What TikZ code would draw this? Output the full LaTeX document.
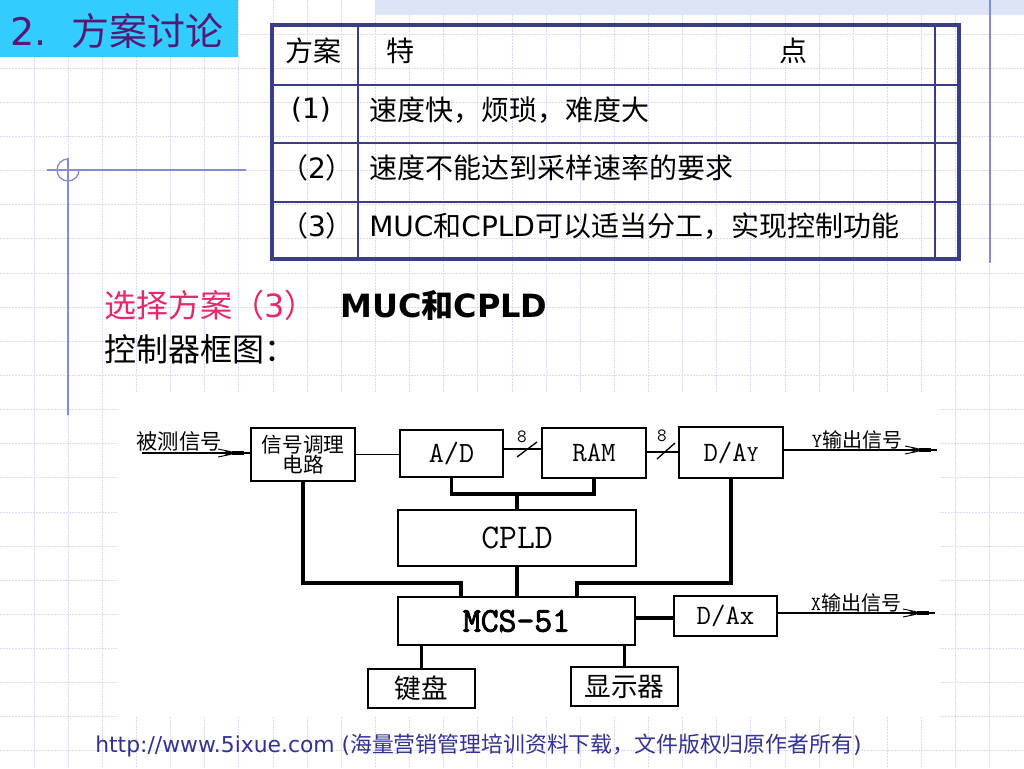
\documentclass[tikz,border=0pt]{standalone}
\usepackage{fontspec}
\usepackage{graphicx}
\setmainfont{Noto Sans CJK SC}
\newfontfamily\lat{DejaVu Sans}
\newfontfamily\mono{Latin Modern Mono}
\newfontfamily\monob{Latin Modern Mono}[FakeBold=2.5]
\usetikzlibrary{calc}
\newcommand\fs[1]{\fontsize{#1}{#1}\selectfont}
\newcommand\mkbox[6]{\node[box,minimum width={(#3-#1)*0.75pt},minimum height={(#4-#2)*0.75pt}] (#5) at ({(#1+#3)/2},{(#2+#4)/2}) {#6};}
\definecolor{gridc}{RGB}{218,218,243}
\definecolor{bandc}{RGB}{220,228,248}
\definecolor{decoc}{RGB}{130,140,215}
\definecolor{titlebgc}{RGB}{51,204,255}
\definecolor{titlec}{RGB}{85,25,115}
\definecolor{tabc}{RGB}{60,60,140}
\definecolor{pinkc}{RGB}{230,40,110}
\definecolor{footc}{RGB}{50,50,150}
\tikzset{
  gridline/.style={draw=gridc,line width=0.75pt,dash pattern=on 1.5pt off 0.75pt},
  deco/.style={draw=decoc,line width=1pt},
  tabthin/.style={draw=tabc,line width=1.1pt},
  tabthick/.style={draw=tabc,line width=2.3pt},
  box/.style={draw=black,line width=1.5pt,inner sep=0pt,align=center},
  bus/.style={draw=black,line width=2.5pt},
  sigline/.style={draw=black,line width=1pt},
  feather/.pic={
    \draw[line width=0.7pt] (-32,-4) -- (-20,-1.5) -- (-16,0);
    \draw[line width=0.7pt] (-32,4) -- (-20,1.5) -- (-16,0);
    \draw[line width=0.7pt] (-26,-2.5) -- (-18,0);
    \draw[line width=0.7pt] (-26,2.5) -- (-18,0);
    \draw[line width=2.6pt] (-18,0) -- (-6,0);
  }
}
\begin{document}
\begin{tikzpicture}[x=0.75pt,y=-0.75pt]
\useasboundingbox (0,0) rectangle (1024,768);
\fill[white] (0,0) rectangle (1024,768);
% background grid
\foreach \i in {1,...,29} \draw[gridline] ({\i*34.1333},0) -- ({\i*34.1333},768);
\foreach \j in {1,...,22} \draw[gridline] (0,{\j*34.1333}) -- (1024,{\j*34.1333});
\fill[bandc] (375,0) rectangle (1024,15);
\draw[deco] (990,0) -- (990,263);
% title
\fill[titlebgc] (0,0) rectangle (238,57);
\node[anchor=west,text=titlec,inner sep=0pt] (title) at (10,31) {\fs{28.5}{\lat 2.}\hspace{19pt}方案讨论};
% cross mark
\draw[deco] (47,170) -- (246,170);
\draw[deco] (68,158) -- (68,415);
\draw[deco] (68,159) arc[start angle=270,end angle=0,radius=11];
% table
\draw[tabthin] (358,25) -- (358,259);
\draw[tabthin] (935,25) -- (935,259);
\draw[tabthin] (272,85) -- (959,85);
\draw[tabthin] (272,143) -- (959,143);
\draw[tabthin] (272,202) -- (959,202);
\draw[tabthick] (272,25) rectangle (959,259);
\begin{scope}[every node/.style={inner sep=0pt,font=\fs{21}}]
\node (h1) at (313,51) {方案};
\node (h2) at (400,51) {特};
\node (h3) at (793,51) {点};
\node (r1a) at (311,110) {\lat (1)};
\node[anchor=west] (r1b) at (369,110) {速度快，烦琐，难度大};
\node (r2a) at (317,168) {（{\lat 2}）};
\node[anchor=west] (r2b) at (369,168) {速度不能达到采样速率的要求};
\node (r3a) at (317,226) {（{\lat 3}）};
\node[anchor=west] (r3b) at (369,226) {{\lat MUC}和{\lat CPLD}可以适当分工，实现控制功能};
\end{scope}
% selection text
\node[anchor=west,inner sep=0pt,text=pinkc,font=\fs{24}] (sel) at (104,305) {选择方案（{\lat 3}）};
\node[anchor=west,inner sep=0pt,font=\fs{24}\bfseries] (selb) at (340,305) {{\lat MUC}和{\lat CPLD}};
\node[anchor=west,inner sep=0pt,font=\fs{24}] (ctl) at (104,349) {控制器框图：};
% diagram area
\fill[white] (118,393) rectangle (940,717);
\mkbox{251}{428}{355}{481}{sig}{\fs{15.5}信号调理\\\fs{15.5}电路}
\mkbox{400}{430}{503}{477}{ad}{\mono\fs{22}A/D}
\mkbox{542}{428}{646}{478}{ram}{\mono\fs{21}RAM}
\mkbox{679}{427}{783}{478}{day}{\mono\fs{21}D/A{\fs{17}Y}}
\mkbox{398}{510}{636}{566}{cpld}{\mono\fs{26}CPLD}
\mkbox{398}{597}{635}{645}{mcs}{\monob\fs{26}MCS-51}
\mkbox{674}{596}{777}{636}{dax}{\mono\fs{21}D/Ax}
\mkbox{368}{669}{475}{708}{kb}{\fs{20}键盘}
\mkbox{571}{667}{678}{706}{disp}{\fs{20}显示器}
% free ends and junctions
\coordinate (in) at (142,453);
\coordinate (yout) at (937,450);
\coordinate (xout) at (935,613);
\coordinate (b1) at (520,449);
\coordinate (b2) at (660,452);
\coordinate (j1) at (517,494);
\coordinate (j2) at (461,583);
\coordinate (j3) at (577,583);
\coordinate (dm) at (700,618);
% connectors
\draw[sigline] (in) -- (in -| sig.west);
\pic at (in -| sig.west) {feather};
\draw[sigline] (sig.east) -- (sig.east -| ad.west);
\draw[sigline] (ad.east |- b1) -- (ram.west |- b1);
\draw[sigline] (ram.east |- b2) -- (day.west |- b2);
\draw[sigline] (day.east |- yout) -- (yout);
\pic at (yout) {feather};
\draw[sigline] (dax.east |- xout) -- (xout);
\pic at (xout) {feather};
\draw[bus] (ad.south) |- (j1) -| (ram.south);
\draw[bus] (j1) -- (cpld.north);
\draw[bus] (cpld.south) -- (cpld.south |- mcs.north);
\draw[bus] (sig.south) |- (j2) -- (j2 |- mcs.north);
\draw[bus] (day.south) |- (j3) -- (j3 |- mcs.north);
\draw[bus] (mcs.east |- dm) -- (dax.west |- dm);
\draw[bus] (kb.north |- mcs.south) -- (kb.north);
\draw[bus] (disp.north |- mcs.south) -- (disp.north);
% bus width marks
\draw[sigline] (517,457) -- (537,442);
\draw[sigline] (657,459) -- (675,443);
\node[inner sep=0pt,font=\mono\fs{14}] (w1) at (522,437) {8};
\node[inner sep=0pt,font=\mono\fs{14}] (w2) at (662,436) {8};
% signal labels
\node[inner sep=0pt,font=\fs{16}] (lin) at (179,441) {被测信号};
\node[inner sep=0pt,font=\fs{15}] (ly) at (857,440) {{\mono Y}输出信号};
\node[inner sep=0pt,font=\fs{15}] (lx) at (856,603) {{\mono X}输出信号};
% footer
\node[anchor=west,inner sep=0pt,text=footc,font=\fs{16.4}] (foot) at (95,746) {{\lat http://www.5ixue.com (}海量营销管理培训资料下载，文件版权归原作者所有{\lat )}};
\end{tikzpicture}
\end{document}
